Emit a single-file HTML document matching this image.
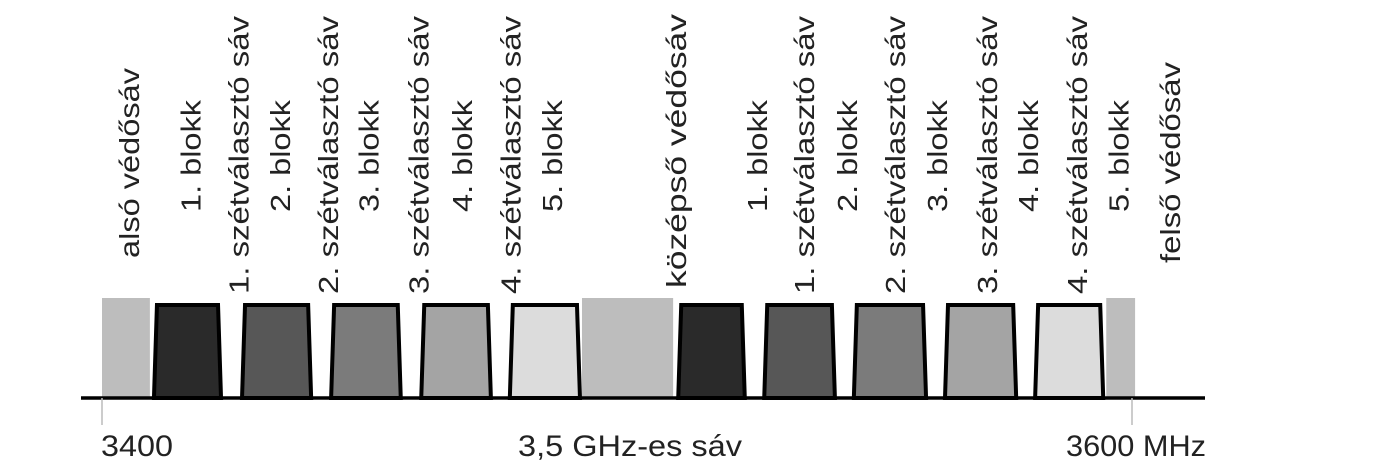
<!DOCTYPE html>
<html><head><meta charset="utf-8"><style>
html,body{margin:0;padding:0;background:#fff;}
svg{display:block;font-family:"Liberation Sans",sans-serif;}
</style></head><body>
<svg id="chart" width="1375" height="467" viewBox="0 0 1375 467" xmlns="http://www.w3.org/2000/svg">
<g id="guards"></g>
<g id="blocks"></g>
<line x1="81" y1="398" x2="1205" y2="398" stroke="#000" stroke-width="3.5"/>
<g id="ticks"></g>
<g id="labels"></g>
<text x="101" y="456" font-size="30" fill="#222" textLength="72" lengthAdjust="spacingAndGlyphs">3400</text>
<text x="518" y="456" font-size="30" fill="#222" textLength="224" lengthAdjust="spacingAndGlyphs">3,5 GHz-es sáv</text>
<text x="1066" y="456" font-size="30" fill="#222" textLength="140" lengthAdjust="spacingAndGlyphs">3600 MHz</text>
</svg>
<script>
const guardStarts = [3400, 3493.2, 3595.0];
const guardEnds = [3409.3, 3510.9, 3600.6];
const blockStarts = [3409.7, 3426.8, 3444.1, 3461.6, 3478.8, 3511.5, 3528.2, 3545.6, 3563.3, 3580.8];
const blockEnds = [3423.5, 3441.0, 3458.4, 3475.9, 3493.2, 3525.2, 3542.7, 3560.4, 3577.9, 3594.8];
const blockIndex = [1, 2, 3, 4, 5, 1, 2, 3, 4, 5];
const tickValues = [3400, 3600];
const labelTexts = ["alsó védősáv","1. blokk","1. szétválasztó sáv","2. blokk","2. szétválasztó sáv","3. blokk","3. szétválasztó sáv","4. blokk","4. szétválasztó sáv","5. blokk","középső védősáv","1. blokk","1. szétválasztó sáv","2. blokk","2. szétválasztó sáv","3. blokk","3. szétválasztó sáv","4. blokk","4. szétválasztó sáv","5. blokk","felső védősáv"];
const labelFreqs = [3407.2,3419.1,3428.4,3436.5,3445.8,3453.7,3463.4,3471.8,3481.3,3489.3,3513.4,3529.1,3538.3,3546.6,3555.9,3564.1,3573.8,3581.7,3591.3,3599.3,3609.3];

const NS = "http://www.w3.org/2000/svg";
const x = v => 102 + (v - 3400) * 5.15;
const AXIS_Y = 398, TOP = 305, GTOP = 298;
const fills = {1:"#2a2a2a",2:"#575757",3:"#7b7b7b",4:"#a4a4a4",5:"#dcdcdc"};

const gG = document.getElementById('guards');
guardStarts.forEach((s,i)=>{
  const r = document.createElementNS(NS,'rect');
  
  
  r.setAttribute('x',x(s)); r.setAttribute('y',GTOP);
  r.setAttribute('width',x(guardEnds[i])-x(s)); r.setAttribute('height',AXIS_Y-GTOP);
  r.setAttribute('fill','#bdbdbd');
  gG.appendChild(r);
});
const gB = document.getElementById('blocks');
blockStarts.forEach((s,i)=>{
  const x0=x(s)+2, x1=x(blockEnds[i])-2;
  const p = document.createElementNS(NS,'polygon');
  
  
  p.setAttribute('points',`${x0},${AXIS_Y} ${x0+3},${TOP} ${x1-3},${TOP} ${x1},${AXIS_Y}`);
  p.setAttribute('fill',fills[blockIndex[i]]);
  p.setAttribute('stroke','#000'); p.setAttribute('stroke-width','4');
  p.setAttribute('stroke-linejoin','miter');
  gB.appendChild(p);
});
const gT = document.getElementById('ticks');
tickValues.forEach(v=>{
  const l = document.createElementNS(NS,'line');
  
  
  l.setAttribute('x1',x(v)); l.setAttribute('x2',x(v));
  l.setAttribute('y1',AXIS_Y); l.setAttribute('y2',425);
  l.setAttribute('stroke','#bbb'); l.setAttribute('stroke-width','1.5');
  gT.appendChild(l);
});
const gL = document.getElementById('labels');
labelTexts.forEach((t,i)=>{
  let bottom, len;
  if (t.indexOf('szét')>=0){bottom=294;len=278;}
  else if (t.indexOf('blokk')>=0){bottom=212;len=112;}
  else if (t.indexOf('középső')>=0){bottom=288;len=274;}
  else if (t.indexOf('alsó')>=0){bottom=258;len=190;}
  else {bottom=263;len=201;}
  const bx = x(labelFreqs[i]);
  const e = document.createElementNS(NS,'text');
  
  
  e.setAttribute('transform',`translate(${bx},${bottom}) rotate(-90)`);
  e.setAttribute('font-size','28');
  e.setAttribute('fill','#222');
  e.setAttribute('textLength',len);
  e.setAttribute('lengthAdjust','spacingAndGlyphs');
  e.textContent = t;
  gL.appendChild(e);
});
</script>
</body></html>
